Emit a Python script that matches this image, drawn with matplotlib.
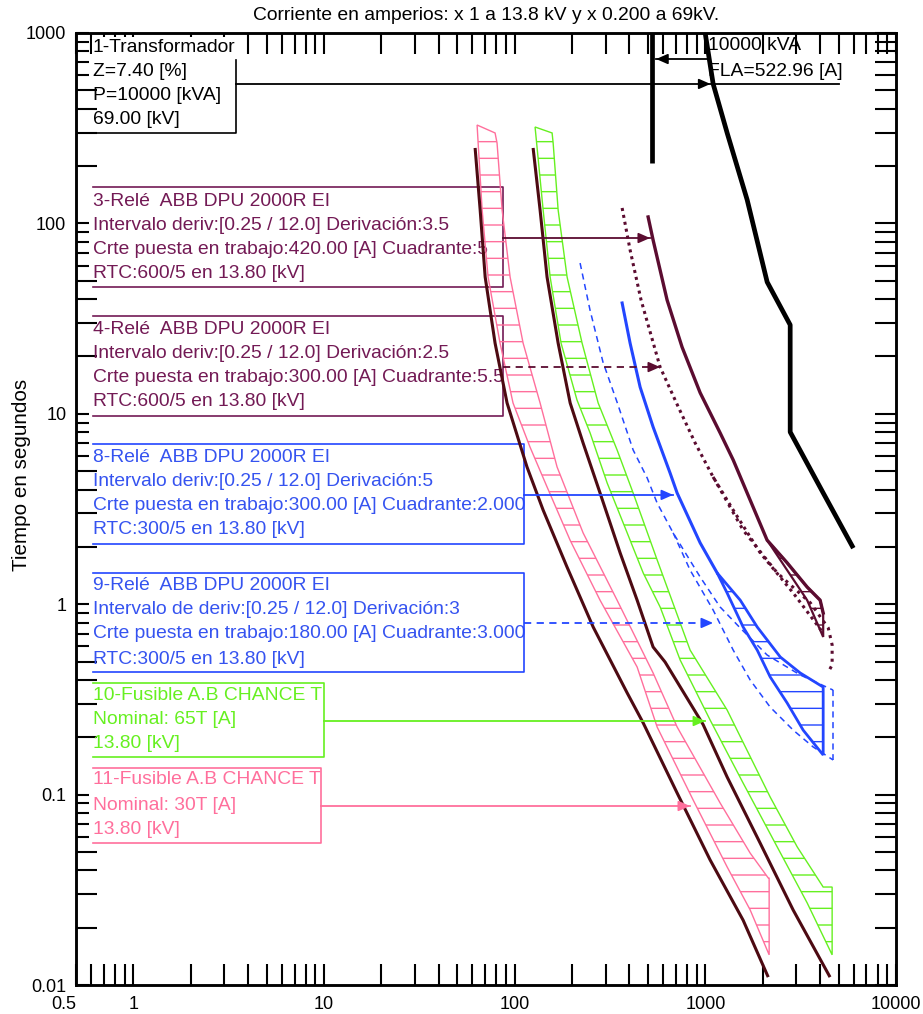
import numpy as np
import matplotlib
matplotlib.use("Agg")
import matplotlib.pyplot as plt
from matplotlib.patches import Polygon
from matplotlib.ticker import FixedLocator, FuncFormatter, NullFormatter, NullLocator

plt.rcParams['font.family'] = ['Liberation Sans', 'DejaVu Sans']
plt.rcParams['hatch.linewidth'] = 1.0

# ---------------- data: current [A] referred to 13.8 kV, time [s] ----------------
# 1 - Transformer 10000 kVA: damage curve and full-load current
xfmr_damage_i = [998, 1099, 1302, 1657, 2110, 2786, 2786, 4151, 5893]
xfmr_damage_t = [1000, 540, 298, 133, 49.2, 29.3, 8.02, 3.84, 2.02]
xfmr_fla = 522.96
xfmr_fla_t = [1000, 207]

# 3 - Relay ABB DPU 2000R EI (pickup 420 A)
r3_i = [501, 532, 630, 755, 939, 1196, 1400, 2108, 2685, 3420, 4000, 4150]
r3_t = [108.1, 81.8, 39.6, 22.4, 12.9, 7.93, 5.72, 2.17, 1.65, 1.23, 1.05, 0.899]
r3_low_i = [2108, 2685, 3420, 4150]
r3_low_t = [2.17, 1.51, 1.05, 0.673]

# 4 - Relay ABB DPU 2000R EI (pickup 300 A)
r4_i = [366, 403, 460, 579, 720, 884, 1098, 1400, 1941, 2891, 4150]
r4_t = [120.5, 72.5, 39.6, 17.6, 10.9, 7.03, 4.66, 3.12, 1.86, 1.145, 0.706]
r4_low_i = [1098, 1578, 2382, 3556, 4413, 4624, 4624, 4413]
r4_low_t = [4.66, 2.45, 1.46, 1.016, 0.75, 0.611, 0.480, 0.44]

# 8 - Relay ABB DPU 2000R EI (pickup 300 A)
r8_i = [366, 403, 455, 532, 653, 711, 939, 1153, 1524, 1871, 2472, 3143, 4150]
r8_t = [38.2, 23.5, 13.8, 8.53, 4.89, 3.84, 2.10, 1.46, 1.05, 0.759, 0.528, 0.4355, 0.367]
r8_low_i = [1153, 1301, 1578, 1871, 2188, 2685, 3260, 4150]
r8_low_t = [1.46, 1.145, 0.759, 0.574, 0.415, 0.303, 0.218, 0.1614]

# 9 - Relay ABB DPU 2000R EI (pickup 180 A)
r9_i = [220.3, 248.3, 290.4, 344.4, 418, 495.5, 558.5, 677.6, 939, 1196, 1524, 2108, 3143, 4677]
r9_t = [61.9, 35.1, 18.7, 11.5, 6.46, 4.60, 3.40, 2.37, 1.39, 0.966, 0.75, 0.541, 0.425, 0.354]
r9_low_i = [677.6, 832, 1098, 1400, 1718, 2188, 2891, 3675, 4677]
r9_low_t = [2.37, 1.51, 0.933, 0.574, 0.40, 0.288, 0.218, 0.178, 0.152]

# 10 - Fuse A.B CHANCE 65T
f10_dark_i = [124.9, 135.9, 147.8, 169.0, 195.4, 228.4, 280.3, 357.3, 438.7, 532, 614.8, 973, 1301, 1937, 2886, 4508]
f10_dark_t = [249, 117.5, 52.3, 23.5, 11.4, 7.03, 3.84, 1.86, 1.05, 0.596, 0.497, 0.2335, 0.1237, 0.0557, 0.0248, 0.0110]
f10_min_i = [127.9, 141.0, 153.4, 175.1, 212.3, 248.7, 305.5, 389, 472, 579.4, 737.9, 1059, 1578, 2382, 3420, 4624]
f10_min_t = [320.8, 117.5, 52.3, 23.5, 11.8, 7.93, 4.33, 2.37, 1.46, 0.966, 0.509, 0.2466, 0.115, 0.0531, 0.0270, 0.0144]
f10_max_i = [157.1, 159.1, 169.0, 188.3, 225.7, 274.0, 344.4, 418, 558.5, 832, 1301, 2188, 3034, 4150, 4624]
f10_max_t = [298.5, 264.4, 117.5, 52.3, 23.5, 11.4, 6.46, 3.84, 1.71, 0.574, 0.278, 0.0971, 0.0531, 0.0327, 0.0327]

# 11 - Fuse A.B CHANCE 30T
f11_dark_i = [62.0, 65.9, 70.0, 78.9, 91.2, 116, 141, 188, 258, 389, 472, 711, 1059, 1578, 2137]
f11_dark_t = [249, 117.5, 52.3, 23.5, 11.4, 5.26, 3.12, 1.57, 0.759, 0.342, 0.238, 0.102, 0.0454, 0.0219, 0.0110]
f11_min_i = [63.5, 64.3, 67.5, 72.5, 83.8, 98.0, 120.3, 147.8, 195.2, 280.3, 438.7, 558.5, 863, 1301, 1718, 2161]
f11_min_t = [328.6, 264.4, 117.5, 52.3, 23.5, 11.4, 6.69, 4.13, 2.17, 1.05, 0.468, 0.2266, 0.0937, 0.0417, 0.0248, 0.0144]
f11_max_i = [78.9, 80.8, 85.9, 94.6, 110.7, 135.9, 166.8, 228.4, 344.4, 532, 711, 1196, 1718, 2137, 2161]
f11_max_t = [298.5, 264.4, 117.5, 52.3, 23.5, 11.4, 5.26, 2.37, 1.05, 0.4355, 0.2266, 0.0903, 0.0493, 0.0365, 0.0365]

# label leader targets (current, time)
xfmr_tag = (1064, 540)
fla_tag = (552, 730)
r3_tag = (513, 83.8)
r4_tag = (579, 17.6)
r8_tag = (677.6, 3.75)
r9_tag = (1098, 0.797)
f10_tag = (998, 0.2435)
f11_tag = (832, 0.0871)

x_tick_values = [0.5, 1, 10, 100, 1000, 10000]
y_tick_values = [0.01, 0.1, 1, 10, 100, 1000]

title = "Corriente en amperios: x 1 a 13.8 kV y x 0.200 a 69kV."
ylabel = "Tiempo en segundos"

xfmr_text = ["1-Transformador", "Z=7.40 [%]", "P=10000 [kVA]", "69.00 [kV]"]
fla_text = ["10000 kVA", "FLA=522.96 [A]"]
r3_text = ["3-Relé  ABB DPU 2000R EI",
           "Intervalo deriv:[0.25 / 12.0] Derivación:3.5",
           "Crte puesta en trabajo:420.00 [A] Cuadrante:5",
           "RTC:600/5 en 13.80 [kV]"]
r4_text = ["4-Relé  ABB DPU 2000R EI",
           "Intervalo deriv:[0.25 / 12.0] Derivación:2.5",
           "Crte puesta en trabajo:300.00 [A] Cuadrante:5.5",
           "RTC:600/5 en 13.80 [kV]"]
r8_text = ["8-Relé  ABB DPU 2000R EI",
           "Intervalo deriv:[0.25 / 12.0] Derivación:5",
           "Crte puesta en trabajo:300.00 [A] Cuadrante:2.000",
           "RTC:300/5 en 13.80 [kV]"]
r9_text = ["9-Relé  ABB DPU 2000R EI",
           "Intervalo de deriv:[0.25 / 12.0] Derivación:3",
           "Crte puesta en trabajo:180.00 [A] Cuadrante:3.000",
           "RTC:300/5 en 13.80 [kV]"]
f10_text = ["10-Fusible A.B CHANCE T", "Nominal: 65T [A]", "13.80 [kV]"]
f11_text = ["11-Fusible A.B CHANCE T", "Nominal: 30T [A]", "13.80 [kV]"]

# ---------------- styling ----------------
C_XFMR = "black"
C_MAROON = "#5b0c30"
C_MAROON_TXT = "#731a55"
C_BLUE = "#2346ff"
C_BLUE_TXT = "#3553f0"
C_GREEN = "#66f020"
C_PINK = "#ff6f9c"
C_DARK = "#4d0a12"
FS = 13.9

W, H = 923, 1014
L, R, T, B = 76, 896, 33, 985

fig = plt.figure(figsize=(W / 100, H / 100), dpi=100)
ax = fig.add_axes([L / W, 1 - B / H, (R - L) / W, (B - T) / H])
ax.set_xscale('log')
ax.set_yscale('log')
ax.set_xlim(x_tick_values[0], x_tick_values[-1])
ax.set_ylim(y_tick_values[0], y_tick_values[-1])


def fx(px):
    return (px - L) / (R - L)


def fy(py):
    return (B - py) / (B - T)


def x_at(px):
    lo, hi = np.log10(x_tick_values[0]), np.log10(x_tick_values[-1])
    return 10 ** (lo + fx(px) * (hi - lo))


# ---- ticks ----
x_minor = [m * 10.0 ** k for k in range(-1, 4) for m in range(2, 10)
           if x_tick_values[0] < m * 10.0 ** k < x_tick_values[-1]]
ax.xaxis.set_major_locator(FixedLocator(x_tick_values))
ax.xaxis.set_major_formatter(FuncFormatter(lambda v, p: f"{v:g}"))
ax.xaxis.set_minor_locator(FixedLocator(x_minor))
ax.xaxis.set_minor_formatter(NullFormatter())
ax.tick_params(axis='x', which='both', direction='in', length=15, width=1.5,
               top=True, bottom=True, labelsize=13, pad=8)

y_long = [m * 10.0 ** k for k in range(-2, 3) for m in (2, 3, 4, 5)]
y_short = [m * 10.0 ** k for k in range(-2, 3) for m in (6, 7, 8, 9)] + y_tick_values


def ylab(v, p):
    e = np.log10(v)
    return f"{v:g}" if abs(e - round(e)) < 1e-6 else ""


ax.yaxis.set_major_locator(FixedLocator(y_long))
ax.yaxis.set_major_formatter(NullFormatter())
ax.yaxis.set_minor_locator(FixedLocator(y_short))
ax.yaxis.set_minor_formatter(FuncFormatter(ylab))
ax.tick_params(axis='y', which='major', direction='in', length=15, width=1.5,
               left=True, right=False)
ax.tick_params(axis='y', which='minor', direction='in', length=9.4, width=1.5,
               left=True, right=False, labelsize=13, pad=7)
for lab in ax.get_xticklabels():
    if lab.get_text() == "0.5":
        lab.set_ha('right')

axr = ax.twinx()
axr.set_yscale('log')
axr.set_ylim(ax.get_ylim())
axr.yaxis.set_major_locator(FixedLocator(sorted(y_long + y_short)))
axr.yaxis.set_major_formatter(NullFormatter())
axr.yaxis.set_minor_locator(NullLocator())
axr.tick_params(axis='y', direction='in', length=15, width=1.5, right=True, left=False)
for a in (ax, axr):
    for s in a.spines.values():
        s.set_linewidth(1.8)

fig.text(486 / W, 1 - 16 / H, title, ha='center', va='center', fontsize=FS)
fig.text(22 / W, 1 - 475 / H, ylabel, ha='center', va='center', rotation=90, fontsize=FS + 1)


# ---- label blocks ----
def block(lines, rows_px, color, x_px=93, first_bg=False):
    for k, (s, py) in enumerate(zip(lines, rows_px)):
        kw = {}
        if first_bg and k == 0:
            kw['bbox'] = dict(facecolor='white', edgecolor='none', pad=1)
        ax.text(fx(x_px), fy(py), s, transform=ax.transAxes, ha='left', va='center',
                fontsize=FS, color=color, zorder=3 if kw else 2, **kw)


def frame(top, bottom, right, color, left=93):
    ax.plot([fx(left), fx(right), fx(right), fx(left)],
            [fy(top), fy(top), fy(bottom), fy(bottom)],
            transform=ax.transAxes, color=color, lw=1.2, clip_on=False, zorder=2)


def leader(x_from_px, tag, color, ls='-', pointing='right', x_end_px=None):
    i_tip, t = tag
    x0 = x_at(x_from_px)
    x1 = x_at(x_end_px) if x_end_px is not None else i_tip
    ax.plot([x0, x1], [t, t], color=color, lw=1.3, ls=ls, zorder=6)
    back = i_tip / 1.12 if pointing == 'right' else i_tip * 1.12
    ax.annotate('', xy=(i_tip, t), xytext=(back, t),
                arrowprops=dict(arrowstyle='-|>,head_length=0.5,head_width=0.22',
                                mutation_scale=14, color=color, lw=1.2,
                                shrinkA=0, shrinkB=0), zorder=6)


block(xfmr_text, [47, 71, 95, 119], 'black', first_bg=True)
ax.plot([fx(236), fx(236), fx(L)], [fy(60), fy(133), fy(133)], transform=ax.transAxes,
        color='black', lw=1.2, zorder=2)
block(fla_text, [46, 71], 'black', x_px=708)

block(r3_text, [202, 226, 250, 274], C_MAROON_TXT)
frame(187, 287, 503, C_MAROON_TXT)
block(r4_text, [329, 353, 378, 402], C_MAROON_TXT)
frame(316, 416, 503, C_MAROON_TXT)
block(r8_text, [457, 482, 506, 530], C_BLUE_TXT)
frame(444, 544, 524, C_BLUE)
block(r9_text, [585, 610, 634, 659], C_BLUE_TXT)
frame(573, 672, 524, C_BLUE)
block(f10_text, [695, 720, 744], C_GREEN)
frame(683, 757, 324, C_GREEN)
block(f11_text, [780, 805, 830], C_PINK)
frame(768, 843, 321, C_PINK)


# ---- curves ----
def band(left_i, left_t, right_i, right_t, color, lw, z, hatch='-', ls='-'):
    xs = list(left_i) + list(right_i)[::-1]
    ys = list(left_t) + list(right_t)[::-1]
    ax.add_patch(Polygon(np.column_stack([xs, ys]), closed=True, facecolor='none',
                         edgecolor=color, lw=lw, hatch=hatch, ls=ls, zorder=z))


# fuses
band(f11_min_i, f11_min_t, f11_max_i, f11_max_t, C_PINK, 1.0, 3)
ax.plot(f11_dark_i, f11_dark_t, color=C_DARK, lw=2.2, zorder=3.5, solid_capstyle='butt')
band(f10_min_i, f10_min_t, f10_max_i, f10_max_t, C_GREEN, 1.0, 3)
ax.plot(f10_dark_i, f10_dark_t, color=C_DARK, lw=2.2, zorder=3.5, solid_capstyle='butt')

# relay 9 (dashed band)
ax.plot(r9_i, r9_t, color=C_BLUE, lw=1.1, ls=(0, (4, 3)), zorder=4)
ax.plot(r9_low_i, r9_low_t, color=C_BLUE, lw=1.1, ls=(0, (4, 3)), zorder=4)
ax.plot([r9_i[-1], r9_low_i[-1]], [r9_t[-1], r9_low_t[-1]], color=C_BLUE, lw=1.1,
        ls=(0, (4, 3)), zorder=4)

# relay 8 (solid band with hatch)
k8 = r8_i.index(r8_low_i[0])
ax.plot(r8_i[:k8 + 1], r8_t[:k8 + 1], color=C_BLUE, lw=2.2, zorder=4)
band(r8_i[k8:], r8_t[k8:], r8_low_i, r8_low_t, C_BLUE, 2.0, 4)

# relay 4 (dotted)
ax.plot(r4_i, r4_t, color=C_MAROON, lw=2.2, ls=(0, (1, 1.3)), zorder=4)
ax.plot(r4_low_i, r4_low_t, color=C_MAROON, lw=2.2, ls=(0, (1, 1.6)), zorder=4)

# relay 3 (solid with narrow band)
k3 = r3_i.index(r3_low_i[0])
ax.plot(r3_i, r3_t, color=C_MAROON, lw=2.4, zorder=4.2)
band(r3_i[k3:], r3_t[k3:], r3_low_i, r3_low_t, C_MAROON, 1.6, 4.1)

# transformer
ax.plot([xfmr_fla, xfmr_fla], xfmr_fla_t, color=C_XFMR, lw=3.4, zorder=5, solid_capstyle='butt')
ax.plot(xfmr_damage_i, xfmr_damage_t, color=C_XFMR, lw=3.4, zorder=5)

# ---- leaders ----
leader(236, xfmr_tag, 'black', x_end_px=839)
leader(707, fla_tag, 'black', pointing='left')
leader(503, r3_tag, C_MAROON)
leader(503, r4_tag, C_MAROON, ls=(0, (4, 3)))
leader(524, r8_tag, C_BLUE)
leader(524, r9_tag, C_BLUE, ls=(0, (4, 3)))
leader(324, f10_tag, C_GREEN)
leader(321, f11_tag, C_PINK)

fig.savefig("out.png", dpi=100)
